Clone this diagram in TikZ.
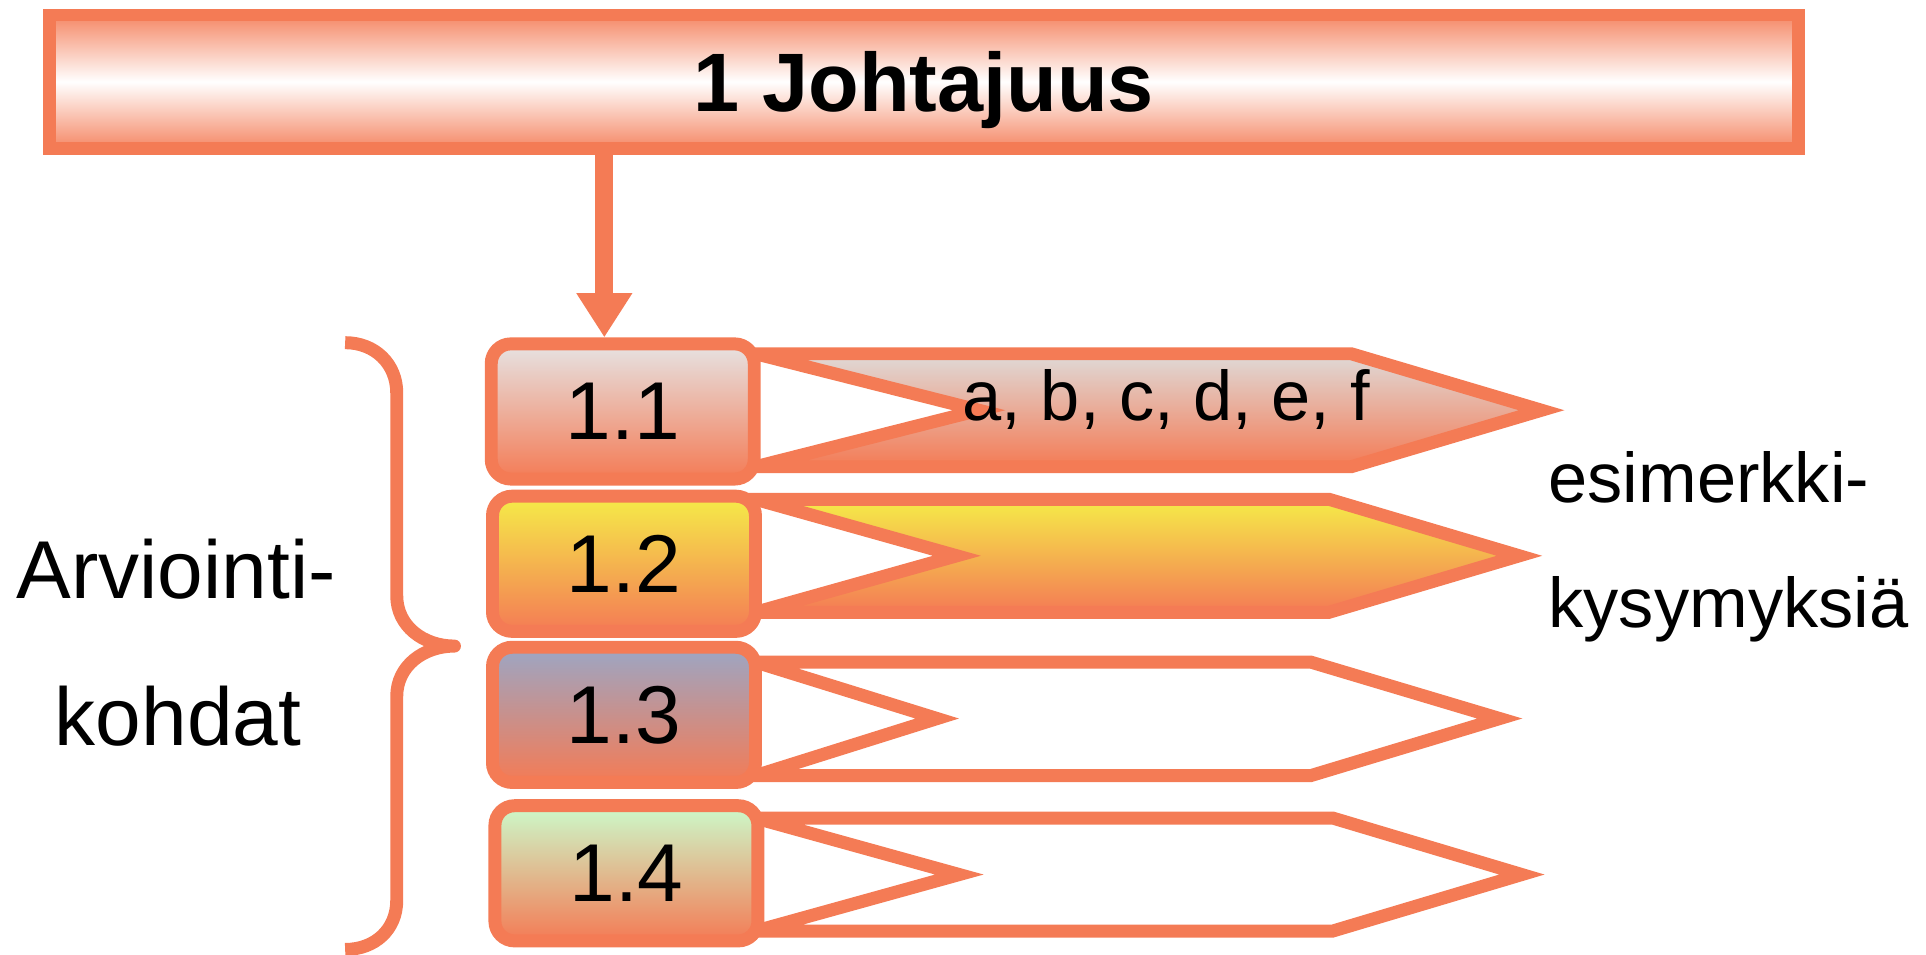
\documentclass[tikz,border=0pt]{standalone}
\usepackage{fontspec}
\setmainfont{Liberation Sans}
\usetikzlibrary{positioning, arrows.meta}

\definecolor{edgeor}{HTML}{F47B55}
\definecolor{topgray}{HTML}{E6E3E3}
\definecolor{chevgray}{HTML}{DFDAD8}
\definecolor{topyel}{HTML}{F5EC48}
\definecolor{topblue}{HTML}{9CA6C4}
\definecolor{topgreen}{HTML}{CCFACA}

\begin{document}
\begin{tikzpicture}[x=0.01cm, y=-0.01cm, >={Triangle[width=0.43cm, length=0.36cm]}]

% Define block styles
\tikzstyle{headbox} = [draw=edgeor, line width=3pt, rectangle, minimum width=14.23cm, minimum height=1.085cm, text depth=0pt, top color=edgeor!90, bottom color=edgeor!90, middle color=white, font=\fontsize{19.2}{23}\selectfont\bfseries]
\tikzstyle{pointbox} = [draw=edgeor, line width=3pt, rectangle, rounded corners=0.16cm, minimum width=2.14cm, minimum height=1.1cm, bottom color=edgeor, font=\fontsize{19}{23}\selectfont]
\tikzstyle{chev} = [draw=edgeor, line width=3pt]
\tikzstyle{curly} = [draw=edgeor, line width=3pt, line join=round]
\tikzstyle{sidetext} = [inner sep=0pt, anchor=base, font=\fontsize{19}{23}\selectfont]
\tikzstyle{note} = [inner sep=0pt, anchor=base west, font=\fontsize{16.3}{20}\selectfont]

\useasboundingbox (0,0) rectangle (1568,777);

% Chevrons behind the boxes
\draw[chev, top color=chevgray, bottom color=edgeor] (615,288) -- (1100,288) -- (1255,334) -- (1100,380) -- (615,380) -- (797,334) -- cycle;
\draw[chev, top color=topyel, bottom color=edgeor] (615,406.5) -- (1082,406.5) -- (1237,452.5) -- (1082,498.5) -- (615,498.5) -- (779,452.5) -- cycle;
\draw[chev, fill=white] (615,539) -- (1067,539) -- (1221,585) -- (1067,631.5) -- (615,631.5) -- (763,585) -- cycle;
\draw[chev, fill=white] (615,666) -- (1085,666) -- (1239,712) -- (1085,758) -- (615,758) -- (781,712) -- cycle;

% Nodes
\node[headbox] (head) at (752,66.5) {1 Johtajuus};
\node[pointbox, top color=topgray] (p1) at (507,335) {1.1};
\node[pointbox, top color=topyel] (p2) at (508,459) {1.2};
\node[pointbox, top color=topblue] (p3) at (508,582) {1.3};
\node[pointbox, top color=topgreen] (p4) at (510,711) {1.4};
\node[note] (kys1) at (783,342) {a, b, c, d, e, f};
\node[sidetext] (arv1) at (143.5,487) {Arviointi-};
\node[sidetext] (arv2) at (145,607) {kohdat};
\node[note] (esim1) at (1260,409) {esimerkki-};
\node[note] (esim2) at (1260,511) {kysymyksiä};
\coordinate (ax) at (492,0);

% Connections
\draw[->, draw=edgeor, line width=4.1pt] (head.south -| ax) -- (p1.north -| ax); % heading to first point
\draw[curly] (281,279) .. controls (305,279) and (323,296) .. (323,320) -- (323,485) .. controls (323,510) and (345,526) .. (370,526) .. controls (345,526) and (323,542) .. (323,567) -- (323,733) .. controls (323,757) and (305,773) .. (281,773); % brace round the points

\end{tikzpicture}
\end{document}
